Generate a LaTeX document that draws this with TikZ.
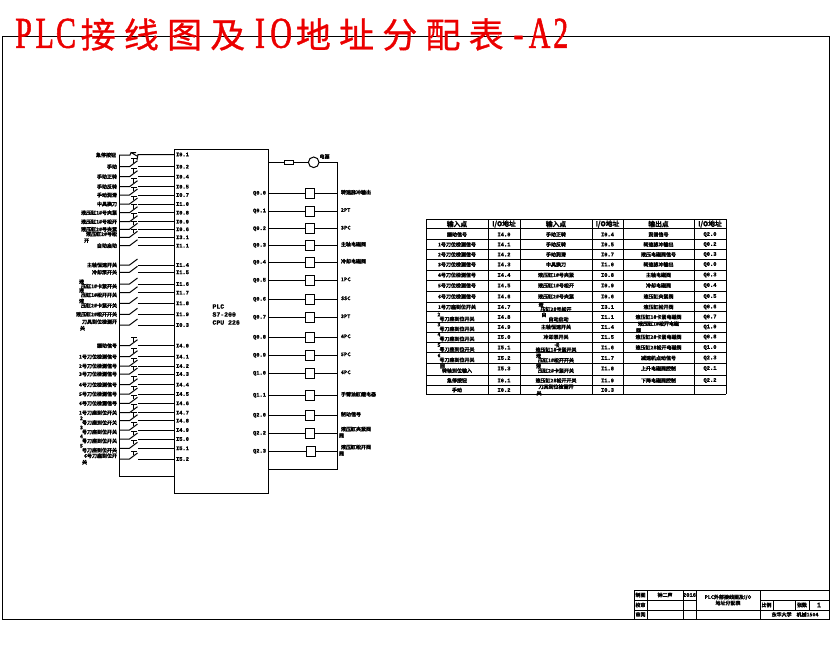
\documentclass[tikz,border=0pt]{standalone}
\usepackage{fontspec}
\setmainfont{Liberation Serif}
\newfontfamily\cjkb[FakeBold=1.6]{Noto Sans CJK SC Bold}
\newfontfamily\cjkr[FakeBold=0.8]{Noto Sans CJK SC}
\newfontfamily\titlelat[FakeStretch=0.68,FakeBold=1.2]{Liberation Serif}
\newfontfamily\addrf[FakeBold=1.2]{Liberation Mono Bold}
\newcommand{\upw}[1]{\rlap{\hspace{-2pt}\raisebox{4.5pt}{#1}}}
\newcommand{\dnw}[1]{\rlap{\hspace{-2pt}\raisebox{-6.5pt}{#1}}}
\newcommand{\ttl}[1]{\makebox[21.2pt][c]{\fontsize{44}{44}\titlelat #1}}
\newcommand{\ttc}[1]{\makebox[43.2pt][c]{\fontsize{35}{35}\cjkr #1}}
\tikzset{
  every node/.style={inner sep=0pt,outer sep=0pt},
  wire/.style={draw=black,line width=1pt},
  lab/.style={font=\cjkb\fontsize{5}{5}\selectfont,anchor=east},
  rlab/.style={font=\cjkb\fontsize{5}{5}\selectfont,anchor=west},
  adr/.style={font=\addrf\fontsize{5.4}{5.4}\selectfont},
  cell/.style={font=\cjkb\fontsize{5}{5}\selectfont,anchor=center},
  head/.style={font=\cjkb\fontsize{6.8}{6.8}\selectfont,anchor=center},
  tb/.style={font=\cjkb\fontsize{5}{6}\selectfont,anchor=center,align=center},
  coil/.style={draw=black,line width=1pt,fill=white,minimum width=9.5pt,minimum height=10pt},
  titletext/.style={text=red!92!black,anchor=west}
}
\begin{document}
\begin{tikzpicture}[x=1pt,y=-1pt,line width=1pt]
\useasboundingbox (0,0) rectangle (830,654);
% frame
\node[draw=black,line width=1pt,minimum width=827pt,minimum height=583pt,anchor=north west] (frame) at (2,36) {};
% title
\node[titletext] (title) at (13,34.5) {\ttl{P}\ttl{L}\ttl{C}\ttc{接}\ttc{线}\ttc{图}\ttc{及}\ttl{I}\ttl{O}\ttc{地}\ttc{址}\ttc{分}\ttc{配}\ttc{表}\ttl{-}\ttl{A}\ttl{2}};
% PLC
\node[draw=black,line width=1pt,minimum width=94pt,minimum height=344pt,anchor=north west] (plc) at (174,149) {};
\node[font=\addrf\fontsize{6.5}{8}\selectfont,align=left,anchor=west] (plctext) at (212.5,314.5) {PLC\\S7-200\\CPU 226};
% input rails
\coordinate (railtop) at (119,155);
\coordinate (railbot) at (119,476);
\draw[wire] (railtop) -- (railbot) -- (plc.west |- railbot);
% NC first contact
\coordinate (s0a) at (130,155);
\coordinate (s0b) at (137,154.5);
\node[adr,anchor=west] (i0) at (176,154.5) {I0.1};
\node[lab] (l0) at (116,155) {急停按钮};
\draw[wire] (railtop) -- (s0a) -- (131,152.5) -- (137,156) (131,152.5) -- (136,152.5) (137,160) -- (138,154.5) -- (plc.west |- i0);
% pushbuttons
\foreach \y/\lb/\ad [count=\n] in {
 166.7/手动/I0.2, 176.7/手动正转/I0.4, 186.7/手动反转/I0.5, 195/手动润滑/I0.7, 204/中具换刀/I1.0,
 212.7/液压缸1\#号夹紧/I0.8, 221.7/液压缸1\#号松开/I0.9, 229.3/液压缸2\#号夹紧/I0.6, 237.3/{\dnw{开}液压缸2\#号松}/I3.1,
 345.7/振动信号/I4.0, 356.7/1号刀位检测信号/I4.1, 366/2号刀位检测信号/I4.2, 374/3号刀位检测信号/I4.3, 384.7/4号刀位检测信号/I4.4,
 394/5号刀位检测信号/I4.5, 403.3/6号刀位检测信号/I4.6, 412.7/1号刀座到位开关/I4.7, 420.7/{\upw{2}号刀座到位开关}/I4.8, 430/{\upw{3}号刀座到位开关}/I4.9,
 439/{\upw{4}号刀座到位开关}/I5.0, 448.3/{\upw{5}号刀座到位开关}/I5.1, 459/{\dnw{关}6号刀座到位开}/I5.2
}{
  \coordinate (pa\n) at (129.5,\y);
  \coordinate (pb\n) at (137.5,\y-6);
  \coordinate (pc\n) at (138,\y);
  \node[adr,anchor=west] (pi\n) at (176,\y) {\ad};
  \node[lab] (pl\n) at (117,\y) {\lb};
  \draw[wire] (railtop |- pa\n) -- (pa\n) -- (pb\n);
  \draw[wire,line width=0.8pt] (131,\y-8) -- (137,\y-8) (133,\y-8) -- (133,\y-4);
  \draw[wire] (pc\n) -- (plc.west |- pc\n);
}
% plain contacts
\foreach \y/\lb/\ad [count=\n] in {
 245.7/自动启动/I1.1, 265/主轴恒速开关/I1.4, 272.3/冷却泵开关/I1.5, 284/{\upw{液}压缸1\#卡紧开关}/I1.6,
 292.7/{\upw{液}压缸1\#松开开关}/I1.7, 303.3/{\upw{液}压缸2\#卡紧开关}/I1.8, 314.3/液压缸2\#松开开关/I1.9, 325/{\dnw{关}刀具到位检测开}/I0.3
}{
  \coordinate (sa\n) at (129.5,\y);
  \coordinate (sb\n) at (137.5,\y-6);
  \coordinate (sc\n) at (138,\y);
  \node[adr,anchor=west] (si\n) at (176,\y) {\ad};
  \node[lab] (sl\n) at (117,\y) {\lb};
  \draw[wire] (railtop |- sa\n) -- (sa\n) -- (sb\n);
  \draw[wire] (sc\n) -- (plc.west |- sc\n);
}
% output supply
\coordinate (rtop) at (337.3,162.3);
\coordinate (rbot) at (337.3,469.3);
\node[draw=black,line width=1pt,minimum width=8.5pt,minimum height=4.5pt] (fuse) at (289,162.3) {};
\node[draw=black,line width=1pt,circle,minimum size=10.6pt] (lamp) at (313.7,162.3) {};
\node[rlab] (lampl) at (319.5,156.5) {电源};
\draw[wire] (plc.east |- fuse) -- (fuse) -- (lamp) -- (rtop) -- (rbot) -- (plc.east |- rbot);
% outputs
\foreach \y/\lb/\ad/\bx [count=\n] in {
 193.3/转速脉冲输出/Q0.0/310, 211/2PT/Q0.1/310, 228.7/3PC/Q0.2/310, 245.3/主轴电磁阀/Q0.3/310, 262.3/冷却电磁阀/Q0.4/310,
 280.3/1PC/Q0.5/310, 299.3/SSC/Q0.6/310, 317.3/3PT/Q0.7/310, 337.3/4PC/Q0.8/310, 355.3/5PC/Q0.9/310, 373.3/6PC/Q1.0/310,
 395.3/手臂油缸继电器/Q1.1/310, 415.3/制动信号/Q2.0/310, 433.3/{\dnw{阀}液压缸夹紧阀}/Q2.2/310, 451.3/{\dnw{阀}液压缸松开阀}/Q2.3/311
}{
  \node[coil] (q\n) at (\bx,\y) {};
  \node[adr,anchor=east] (qa\n) at (266,\y) {\ad};
  \node[rlab] (ql\n) at (341,\y-1) {\lb};
  \draw[wire] (plc.east |- q\n) -- (q\n) -- (rtop |- q\n);
}
% table
\foreach \x [count=\n] in {426,488.5,520,592,623,694,726}{ \coordinate (vt\n) at (\x,219); \coordinate (vb\n) at (\x,394); \draw[wire] (vt\n) -- (vb\n); }
\foreach \y [count=\n] in {219,228.5,239.3,249.3,259.3,270,280.7,291,302.3,311.7,322.3,332.3,342.3,352.7,363.3,375,385.7,394}{ \coordinate (hl\n) at (426,\y); \coordinate (hr\n) at (726,\y); \draw[wire] (hl\n) -- (hr\n); }
\foreach \x/\t [count=\n] in {457/输入点,504/{I/O地址},556/输入点,607.5/{I/O地址},658.5/输出点,710/{I/O地址}}{ \node[head] (th\n) at (\x,224) {\t}; }
\foreach \y/\a/\b/\c/\d/\e/\f [count=\n] in {
 234.5/振动信号/I4.0/手动正转/I0.4/润滑信号/Q2.0,
 244.5/1号刀位检测信号/I4.1/手动反转/I0.5/转速脉冲输出/Q0.2,
 254.5/2号刀位检测信号/I4.2/手动润滑/I0.7/液压电磁阀信号/Q0.3,
 264.5/3号刀位检测信号/I4.3/中具换刀/I1.0/转速脉冲输出/Q0.0,
 275/4号刀位检测信号/I4.4/液压缸1\#号夹紧/I0.8/主轴电磁阀/Q0.3,
 285.5/5号刀位检测信号/I4.5/液压缸1\#号松开/I0.9/冷却电磁阀/Q0.4,
 296.5/6号刀位检测信号/I4.6/液压缸2\#号夹紧/I0.6/液压缸夹紧阀/Q0.5,
 307/1号刀座到位开关/I4.7/{\upw{液}压缸2\#号松开}/I3.1/液压缸松开阀/Q0.6,
 317/{\upw{2}号刀座到位开关}/I4.8/{\upw{自}\quad 自动启动}/I1.1/液压缸1\#卡紧电磁阀/Q0.7,
 327/{\upw{3}号刀座到位开关}/I4.9/主轴恒速开关/I1.4/{\dnw{阀}液压缸1\#松开电磁}/Q1.0,
 337/{\upw{4}号刀座到位开关}/I5.0/冷却泵开关/I1.5/液压缸2\#卡紧电磁阀/Q0.8,
 347.5/{\upw{5}号刀座到位开关}/I5.1/{液压缸1\#\upw{卡}卡紧开关}/I1.6/液压缸2\#松开电磁阀/Q1.0,
 358/{\upw{6}号刀座到位开关}/I5.2/{\upw{液}压缸1\#松开开关}/I1.7/减速机点动信号/Q2.3,
 368.5/{\upw{回}转轴到位输入}/I5.3/{\upw{液}压缸2\#卡紧开关}/I1.8/上升电磁阀控制/Q2.1,
 380.5/急停按钮/I0.1/液压缸2\#松开开关/I1.9/下降电磁阀控制/Q2.2,
 390/手动/I0.2/{\dnw{关}刀具到位检测开}/I0.3/{}/{}
}{
  \node[cell] (ca\n) at (457,\y) {\a};
  \node[adr] (cb\n) at (504,\y) {\b};
  \node[cell] (cc\n) at (556,\y) {\c};
  \node[adr] (cd\n) at (607.5,\y) {\d};
  \node[cell] (ce\n) at (658.5,\y) {\e};
  \node[adr] (cf\n) at (710,\y) {\f};
}
% title block
\coordinate (ba) at (634,590); \coordinate (bb) at (829,590);
\coordinate (bc) at (634,600); \coordinate (bd) at (696,600);
\coordinate (be) at (760,600); \coordinate (bf) at (829,600);
\coordinate (bg) at (634,610); \coordinate (bh) at (829,610);
\draw[wire] (ba) -- (bb) (bc) -- (bd) (be) -- (bf) (bg) -- (bh);
\foreach \x in {634,647,683,696,760}{ \draw[wire] (\x,590) -- (\x,619); }
\foreach \x in {773,795,809}{ \draw[wire] (\x,600) -- (\x,610); }
\node[tb] (t1) at (640.5,595) {制图};
\node[tb] (t2) at (640.5,605) {校审};
\node[tb] (t3) at (640.5,614.5) {审阅};
\node[tb] (t4) at (665,595) {钟二声};
\node[adr] (t5) at (689.5,595) {2016};
\node[tb] (t6) at (728,600) {PLC外部接线图及I/O\\地址分配表};
\node[tb] (t7) at (766.5,605) {比例};
\node[tb] (t8) at (802,605) {张数};
\node[font=\addrf\fontsize{7}{7}\selectfont] (t9) at (819,605) {1};
\node[tb] (t10) at (795,614.5) {东华大学\quad 机械1504};
\end{tikzpicture}
\end{document}
